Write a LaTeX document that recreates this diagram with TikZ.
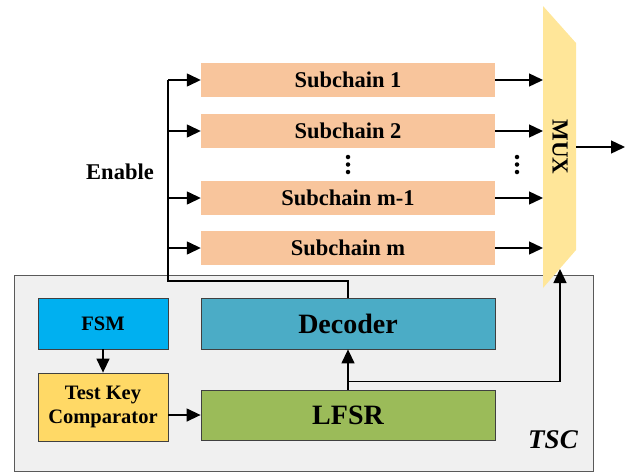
\documentclass[tikz,border=0pt]{standalone}
\usepackage{fontspec}
\setmainfont{Liberation Serif}
\usepackage{tikz}
\usetikzlibrary{arrows.meta}
\definecolor{chainfill}{HTML}{F8C59C}
\definecolor{muxfill}{HTML}{FFE699}
\definecolor{fsmfill}{HTML}{00B0F0}
\definecolor{decfill}{HTML}{4BACC6}
\definecolor{lfsrfill}{HTML}{9BBB59}
\definecolor{tkcfill}{HTML}{FFD966}
\definecolor{tscfill}{HTML}{F0F0F0}
\tikzset{
    chainnode/.style = {
        fill=chainfill,
        inner sep=0pt,
        minimum width=294pt,
        minimum height=34pt,
        font=\fontsize{22.5}{26}\selectfont\bfseries
    },
    blocknode/.style = {
        draw=black!75,
        line width=0.8pt,
        inner sep=0pt,
        align=center,
        text centered
    },
    smallnode/.style = {
        blocknode,
        minimum width=130pt,
        font=\fontsize{20.5}{24}\selectfont\bfseries
    },
    bignode/.style = {
        blocknode,
        minimum width=294pt,
        font=\fontsize{28}{32}\selectfont\bfseries
    },
    sig/.style = {
        line width=1.4pt,
        -{Triangle[length=14pt,width=13pt]}
    },
    dotmark/.style = {
        fill=black,
        circle,
        inner sep=0pt,
        minimum size=4.5pt
    }
}

\begin{document}
\begin{tikzpicture}[x=1pt,y=-1pt]
    \useasboundingbox (0,0) rectangle (635,472);
    \filldraw [fill=tscfill, draw=black!65, line width=0.8pt] (14,275) rectangle (593,471);
    \node [font=\fontsize{27}{30}\selectfont\bfseries\itshape] (tsc) at (553,440) {TSC};

    \node [chainnode] (sc1) at (348,80) {Subchain 1};
    \node [chainnode] (sc2) at (348,131) {Subchain 2};
    \node [chainnode] (scm1) at (348,198) {Subchain m-1};
    \node [chainnode] (scm) at (348,248) {Subchain m};
    \foreach \x in {348,517}
        \foreach \y in {157,164.5,172}
            \node [dotmark] at (\x,\y) {};

    \fill [muxfill] (543,6) -- (576,43) -- (576,250) -- (543,288) -- cycle;
    \node [rotate=-90, font=\fontsize{23}{26}\selectfont\bfseries] (mux) at (560,147) {MUX};
    \coordinate (muxin) at (543,147);
    \coordinate (muxout) at (576,147);
    \coordinate (muxbot) at (560,269);
    \coordinate (out) at (625,147);

    \node [smallnode, fill=fsmfill, minimum height=51pt] (fsm) at (103,323.5) {FSM};
    \node [smallnode, fill=tkcfill, minimum height=68pt] (tkc) at (103,407) {Test Key\\Comparator};
    \node [bignode, fill=decfill, minimum height=51pt] (dec) at (348,323.5) {Decoder};
    \node [bignode, fill=lfsrfill, minimum height=50pt] (lfsr) at (348,415) {LFSR};

    \node [font=\fontsize{22.5}{26}\selectfont\bfseries] (en) at (120,172) {Enable};
    \coordinate (bus) at (168,281);

    \draw [line width=1.4pt] (dec.north) |- (bus) -- (bus |- sc1);
    \foreach \c in {sc1,sc2,scm1,scm} {
        \draw [sig] (bus |- \c) -- (\c.west);
        \draw [sig] (\c.east) -- (muxin |- \c);
    }
    \draw [sig] (muxout) -- (out);
    \draw [sig] (fsm) -- (tkc);
    \draw [sig] (tkc.east |- lfsr) -- (lfsr.west);
    \draw [sig] (lfsr.north) -- (dec.south);
    \draw [sig] (lfsr.north) ++(0,-8) -| (muxbot);
\end{tikzpicture}
\end{document}
